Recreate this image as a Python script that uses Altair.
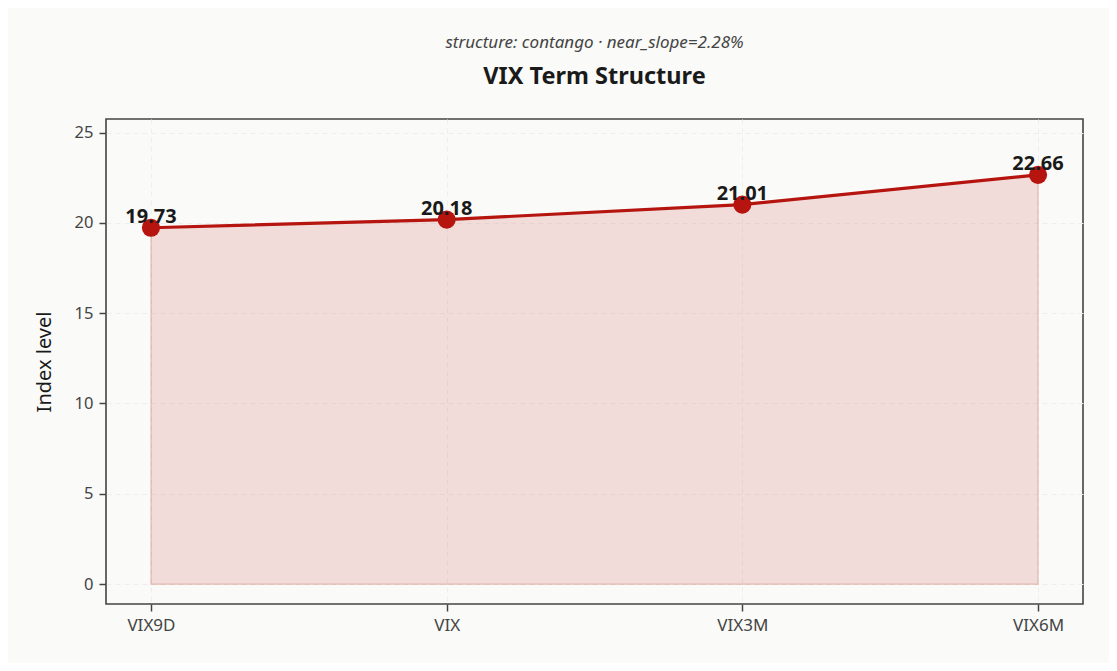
import altair as alt
import pandas as pd

# VIX term structure snapshot
tenors = ["VIX9D", "VIX", "VIX3M", "VIX6M"]
levels = [19.73, 20.18, 21.01, 22.66]
y_ticks = [0, 5, 10, 15, 20, 25]

title_text = "VIX Term Structure"
subtitle_text = "structure: contango · near_slope=2.28%"

FONT = "Noto Sans"
RED = "#b5140f"

df = pd.DataFrame({"tenor": tenors, "level": levels})
df["label"] = df["level"].map(lambda v: f"{v:.2f}")

W, H = 977, 485

x_enc = alt.X(
    "tenor:N",
    sort=None,
    title=None,
    scale=alt.Scale(type="point", padding=0.152),
    axis=alt.Axis(labelAngle=0, labelPadding=6, tickSize=7, labelFontSize=17),
)
y_scale = alt.Scale(domain=[-1.1, 25.75], nice=False, zero=False)

base = alt.Chart(df).encode(x=x_enc)

area = base.mark_area(
    color="#c0392b", fillOpacity=0.15, stroke="#c0392b", strokeOpacity=0.22, strokeWidth=1.5
).encode(
    y=alt.Y(
        "level:Q",
        scale=y_scale,
        title="Index level",
        axis=alt.Axis(values=y_ticks, tickSize=7, labelPadding=6, titlePadding=20, labelFontSize=16.5),
    ),
    y2=alt.datum(0),
)

line = base.mark_line(color=RED, strokeWidth=3.2).encode(y=alt.Y("level:Q", scale=y_scale))

points = base.mark_circle(color=RED, size=330, opacity=1).encode(
    y=alt.Y("level:Q", scale=y_scale)
)

labels = base.mark_text(
    font=FONT, fontSize=20, fontWeight="bold", color="#1a1a1a", baseline="alphabetic", dy=-5
).encode(y=alt.Y("level:Q", scale=y_scale), text="label:N")

# titles drawn as text above the frame (subtitle sits above the main title)
head = pd.DataFrame({"t": [subtitle_text, title_text], "kind": ["sub", "main"]})
subtitle = alt.Chart(head).transform_filter("datum.kind == 'sub'").mark_text(
    font=FONT, fontSize=17, fontStyle="italic", color="#444", baseline="alphabetic"
).encode(x=alt.value(W / 2), y=alt.value(-71), text="t:N")
title = alt.Chart(head).transform_filter("datum.kind == 'main'").mark_text(
    font=FONT, fontSize=23.5, fontWeight="bold", color="#1a1a1a", baseline="alphabetic"
).encode(x=alt.value(W / 2), y=alt.value(-35), text="t:N")

chart = alt.layer(area, line, points, labels, subtitle, title).properties(
    width=W,
    height=H,
    background="#fafaf8",
    padding={"left": 98, "top": 111, "right": 26, "bottom": 59},
    autosize=alt.AutoSizeParams(type="none"),
).configure_view(
    stroke="#444", strokeWidth=1.6
).configure_axis(
    labelFont=FONT,
    labelColor="#444",
    titleFont=FONT,
    titleFontSize=20,
    titleFontWeight="normal",
    titleColor="#1a1a1a",
    tickColor="#444",
    tickWidth=1.5,
    domain=False,
    grid=True,
    gridColor="#eeeeec",
    gridDash=[5, 4],
    gridWidth=1,
)

chart.save("out.html", embed_options={"renderer": "svg", "actions": False})
